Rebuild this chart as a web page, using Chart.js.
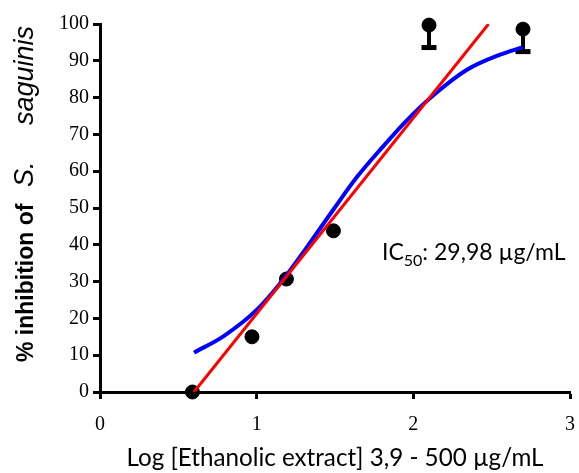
<!DOCTYPE html>
<html><head><meta charset="utf-8">
<script src="https://cdn.jsdelivr.net/npm/chart.js@4"></script>
<style>html,body{margin:0;padding:0;background:#fff}</style>
</head><body>
<canvas id="c" width="579" height="473"></canvas>
<script>
// ---- data ----
const pointX = [0.59, 0.97, 1.19, 1.49, 2.10, 2.70];
const pointY = [0, 15, 30.7, 43.8, 99.7, 98.6];
const errLow = [null, null, null, null, 93.6, 92.5];
const fitX = [0.60, 0.79, 1.00, 1.17, 1.32, 1.49, 1.64, 1.80, 1.96, 2.13, 2.34, 2.55, 2.70];
const fitY = [10.7, 15.2, 22.3, 30.6, 39.3, 49.6, 58.4, 66.4, 73.9, 80.7, 87.5, 91.6, 93.7];
const linX = [0.60, 2.48];
const linY = [0, 100];
const xTitle = 'Log [Ethanolic extract] 3,9 - 500 \u00b5g/mL';
const yTitleParts = ['% inhibition of', 'S.', 'saguinis'];
const icLabel = ['IC', '50', ': 29,98 \u00b5g/mL'];

const toXY = (xs, ys) => xs.map((x, i) => ({x: x, y: ys[i]}));

const deco = {
  id: 'deco',
  beforeDatasetsDraw(chart) {
    const ctx = chart.ctx, xs = chart.scales.x, ys = chart.scales.y;
    ctx.save();
    ctx.strokeStyle = '#000'; ctx.fillStyle = '#000';
    pointX.forEach((x, i) => {
      if (errLow[i] == null) return;
      const px = xs.getPixelForValue(x);
      const py = ys.getPixelForValue(pointY[i]);
      const pe = ys.getPixelForValue(errLow[i]);
      ctx.lineWidth = 4;
      ctx.beginPath(); ctx.moveTo(px, py); ctx.lineTo(px, pe); ctx.stroke();
      ctx.fillRect(px - 7.5, pe - 2.5, 15, 5);
    });
    ctx.restore();
  },
  afterDraw(chart) {
    const ctx = chart.ctx;
    ctx.save();
    // y axis title (rotated)
    ctx.translate(33, 362);
    ctx.rotate(-Math.PI / 2);
    ctx.fillStyle = '#000';
    ctx.textBaseline = 'alphabetic';
    ctx.textAlign = 'left';
    ctx.font = 'bold 23px "Liberation Sans"';
    ctx.fillText(yTitleParts[0], 0, 0);
    ctx.font = 'italic 27px "Liberation Sans"';
    ctx.fillText(yTitleParts[1], 175, 0);
    ctx.fillText(yTitleParts[2], 237, 0);
    ctx.restore();
    // IC50 annotation
    ctx.save();
    ctx.fillStyle = '#000';
    ctx.textAlign = 'left';
    ctx.textBaseline = 'alphabetic';
    let x = 382;
    ctx.font = '23px Lato';
    ctx.fillText(icLabel[0], x, 260); x += ctx.measureText(icLabel[0]).width;
    ctx.font = '16px Lato';
    ctx.fillText(icLabel[1], x, 266); x += ctx.measureText(icLabel[1]).width;
    ctx.font = '23px Lato';
    ctx.fillText(icLabel[2], x, 260);
    ctx.restore();
  }
};

const axisCommon = {
  grid: {drawOnChartArea: false, drawTicks: true, tickLength: 7, tickWidth: 3, tickColor: '#000'},
  border: {display: true, width: 3, color: '#000'}
};

new Chart(document.getElementById('c'), {
  type: 'scatter',
  data: {
    datasets: [
      {label: 'linear', type: 'line', data: toXY(linX, linY), borderColor: '#ff0000', borderWidth: 3,
       pointRadius: 0, fill: false},
      {label: 'fit', type: 'line', data: toXY(fitX, fitY), borderColor: '#0000ff', borderWidth: 4,
       pointRadius: 0, fill: false, cubicInterpolationMode: 'monotone'},
      {label: 'data', data: toXY(pointX, pointY), backgroundColor: '#000', borderColor: '#000',
       pointRadius: 7, pointHoverRadius: 7, clip: false}
    ]
  },
  options: {
    responsive: false,
    animation: false,
    devicePixelRatio: 1,
    layout: {padding: {top: 24, right: 9, bottom: 0, left: 0}},
    plugins: {legend: {display: false}, tooltip: {enabled: false}},
    scales: {
      x: Object.assign({
        type: 'linear', min: 0, max: 3,
        ticks: {stepSize: 1, color: '#000', padding: 14, font: {family: '"Liberation Serif"', size: 20}},
        title: {display: true, text: xTitle, color: '#000', font: {family: 'Lato', size: 24.2}, padding: {top: 0, bottom: 0}},
        afterFit(s) { s.height = 81; s.paddingLeft = 0; s.paddingRight = 0; }
      }, axisCommon),
      y: Object.assign({
        type: 'linear', min: 0, max: 100,
        ticks: {stepSize: 10, color: '#000', padding: 4, font: {family: '"Liberation Serif"', size: 20}},
        afterFit(s) { s.width = 100; }
      }, axisCommon)
    }
  },
  plugins: [deco]
});
</script>
</body></html>
